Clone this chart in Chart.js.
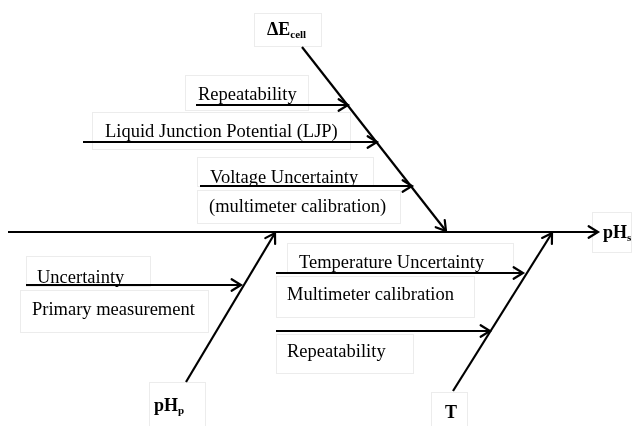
<!DOCTYPE html>
<html>
<head>
<meta charset="utf-8">
<script src="https://cdn.jsdelivr.net/npm/chart.js@4"></script>
<style>
  html, body { margin: 0; padding: 0; background: #fff; }
  #wrap { width: 635px; height: 426px; position: relative; }
</style>
</head>
<body>
<div id="wrap"><canvas id="fishbone"></canvas></div>
<script>
// --- Diagram data (diagram units = one unit per pixel of the 635x426 sheet) ---
const effectName = 'pH';
const effectSub = 's';
const spineFrom = [8, 232];
const spineTo = [598, 232];

// main causes (bones) running into the spine
const boneNames = ['ΔE', 'pH', 'T'];
const boneSubs = ['cell', 'p', ''];
const boneFrom = [[302, 47], [186, 382], [453, 391]];
const boneTo = [[446, 231], [275, 233], [552, 233]];

// sub-causes: horizontal arrows into a bone
const subText = [
  ['Repeatability'],
  ['Liquid Junction Potential (LJP)'],
  ['Voltage Uncertainty', '(multimeter calibration)'],
  ['Uncertainty', 'Primary measurement'],
  ['Temperature Uncertainty', 'Multimeter calibration'],
  ['Repeatability']
];
const subY = [105, 142, 186, 285, 273, 331];
const subFromX = [196, 83, 200, 26, 276, 276];
const subToX = [348, 377, 412, 241, 523, 490];

// --- Label layout (left x / baseline of each text line) ---
const subTextX = [[198], [105], [210, 209], [37, 32], [299, 287], [287]];
const subTextBase = [[100], [137], [183, 212], [283, 315], [268, 300], [357]];
const subBoxes = [
  [[185, 75, 308, 110]],
  [[92, 112, 350, 149]],
  [[197, 157, 373, 186], [197, 190, 400, 223]],
  [[26, 256, 150, 286], [20, 290, 208, 332]],
  [[287, 243, 513, 273], [276, 276, 474, 317]],
  [[276, 334, 413, 373]]
];
const boneLabelPos = [[267, 35], [154, 411], [445, 418]];
const boneBoxes = [[254, 13, 321, 46], [149, 382, 205, 426], [431, 392, 467, 426]];
const effectLabelPos = [603, 238];
const effectBox = [592, 212, 631, 252];

const serif = '"Liberation Serif", "Times New Roman", serif';

// build datasets
const datasets = [];
datasets.push({ data: [{ x: spineFrom[0], y: spineFrom[1] }, { x: spineTo[0], y: spineTo[1] }] });
boneFrom.forEach((f, i) => {
  datasets.push({ data: [{ x: f[0], y: f[1] }, { x: boneTo[i][0], y: boneTo[i][1] }] });
});
subY.forEach((y, i) => {
  datasets.push({ data: [{ x: subFromX[i], y: y }, { x: subToX[i], y: y }] });
});
datasets.forEach(ds => {
  ds.showLine = true;
  ds.borderColor = '#000';
  ds.borderWidth = 2.2;
  ds.pointRadius = 0;
  ds.fill = false;
});

function px(chart, x, y) {
  return [chart.scales.x.getPixelForValue(x), chart.scales.y.getPixelForValue(y)];
}

function drawBox(chart, b) {
  const ctx = chart.ctx;
  const [x0, y0] = px(chart, b[0], b[1]);
  const [x1, y1] = px(chart, b[2], b[3]);
  ctx.strokeStyle = '#ececec';
  ctx.lineWidth = 1;
  ctx.strokeRect(Math.round(x0) + 0.5, Math.round(y0) + 0.5, x1 - x0, y1 - y0);
}

function drawSubscripted(chart, main, sub, x, y) {
  const ctx = chart.ctx;
  const [px0, py0] = px(chart, x, y);
  ctx.fillStyle = '#000';
  ctx.textBaseline = 'alphabetic';
  ctx.textAlign = 'left';
  ctx.font = 'bold 18px ' + serif;
  ctx.fillText(main, px0, py0);
  const w = ctx.measureText(main).width;
  if (sub) {
    ctx.font = 'bold 11px ' + serif;
    ctx.fillText(sub, px0 + w, py0 + 3);
  }
}

const fishbonePlugin = {
  id: 'fishbone',
  beforeDatasetsDraw(chart) {
    subBoxes.forEach(list => list.forEach(b => drawBox(chart, b)));
    boneBoxes.forEach(b => drawBox(chart, b));
    drawBox(chart, effectBox);
  },
  afterDatasetsDraw(chart) {
    const ctx = chart.ctx;
    ctx.save();
    // open arrowheads at the end of every line
    chart.data.datasets.forEach((ds, i) => {
      const pts = chart.getDatasetMeta(i).data;
      const a = pts[pts.length - 2], b = pts[pts.length - 1];
      const ang = Math.atan2(b.y - a.y, b.x - a.x);
      const len = 11, spread = 0.55;
      ctx.strokeStyle = '#000';
      ctx.lineWidth = 2.2;
      ctx.lineCap = 'round';
      ctx.beginPath();
      ctx.moveTo(b.x - len * Math.cos(ang - spread), b.y - len * Math.sin(ang - spread));
      ctx.lineTo(b.x, b.y);
      ctx.lineTo(b.x - len * Math.cos(ang + spread), b.y - len * Math.sin(ang + spread));
      ctx.stroke();
    });
    // sub-cause labels
    ctx.fillStyle = '#000';
    ctx.textAlign = 'left';
    ctx.textBaseline = 'alphabetic';
    ctx.font = '18.5px ' + serif;
    subText.forEach((lines, i) => {
      lines.forEach((t, j) => {
        const [x, y] = px(chart, subTextX[i][j], subTextBase[i][j]);
        ctx.fillText(t, x, y);
      });
    });
    // bone and effect labels
    boneNames.forEach((n, i) => drawSubscripted(chart, n, boneSubs[i], boneLabelPos[i][0], boneLabelPos[i][1]));
    drawSubscripted(chart, effectName, effectSub, effectLabelPos[0], effectLabelPos[1]);
    ctx.restore();
  }
};

new Chart(document.getElementById('fishbone'), {
  type: 'scatter',
  data: { datasets },
  options: {
    responsive: true,
    maintainAspectRatio: false,
    animation: false,
    layout: { padding: 0 },
    plugins: { legend: { display: false }, tooltip: { enabled: false } },
    scales: {
      x: { type: 'linear', min: 0, max: 635, display: false },
      y: { type: 'linear', min: 0, max: 426, reverse: true, display: false }
    }
  },
  plugins: [fishbonePlugin]
});
</script>
</body>
</html>
